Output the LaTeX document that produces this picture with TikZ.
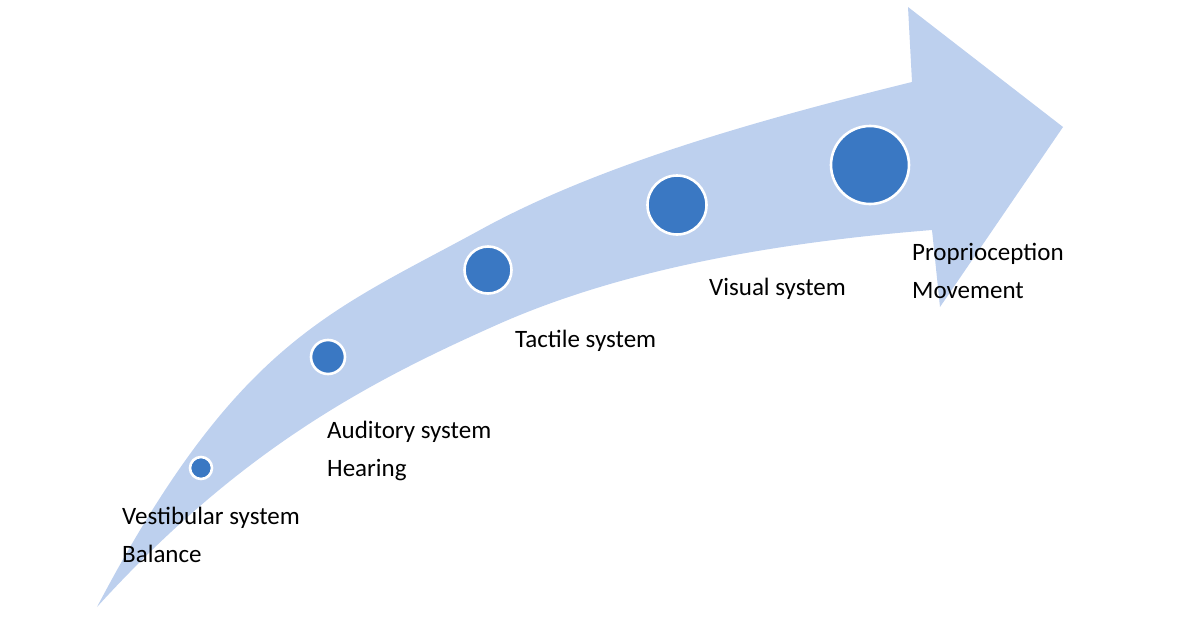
\documentclass[tikz,border=0pt]{standalone}
\usepackage{fontspec}
\setmainfont{Carlito}
\usetikzlibrary{positioning}
\definecolor{Strelica}{HTML}{BDD0EE}
\definecolor{Krug}{HTML}{3A78C3}
\tikzset{
  oznaka/.style = {anchor=base west, align=left, inner sep=0pt, text=black,
                   font=\fontsize{25}{38}\selectfont},
  krug/.style   = {circle, fill=Krug, draw=white, line width=2.6pt, inner sep=0pt},
}

\begin{document}
\begin{tikzpicture}[x=1pt, y=-1pt]
  \useasboundingbox (0,0) rectangle (1186,629);
  % --- strelica ---
  \fill[Strelica] (97,607)
      .. controls (237,341) and (330,312) .. (480,230)
      .. controls (600,164) and (762,119) .. (912,82)
    -- (908,7) -- (1063,127) -- (940,307) -- (932,230)
      .. controls (782,242) and (622,268) .. (492,327)
      .. controls (362,385) and (237,453) .. (97,607)
    -- cycle;

  % --- krugovi ---
  \node[krug, minimum size=22pt] (k1) at (201,468) {};
  \node[krug, minimum size=34pt] (k2) at (328,357) {};
  \node[krug, minimum size=47pt] (k3) at (488,270) {};
  \node[krug, minimum size=59pt] (k4) at (677,205) {};
  \node[krug, minimum size=78pt] (k5) at (870,165) {};

  % --- oznake ---
  \node[oznaka] (vest) at (122,562) {Vestibular system\\Balance};
  \node[oznaka] (aud)  at (327,476) {Auditory system\\Hearing};
  \node[oznaka] (takt) at (515,347) {Tactile system};
  \node[oznaka] (viz)  at (709,295) {Visual system};
  \node[oznaka] (prop) at (912,298) {Proprioception\\Movement};
\end{tikzpicture}
\end{document}
